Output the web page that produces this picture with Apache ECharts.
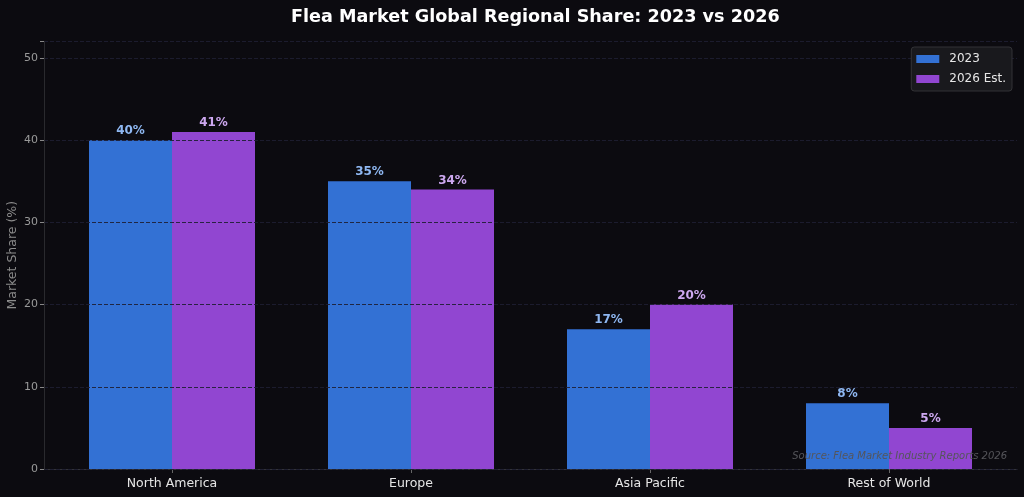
<!DOCTYPE html>
<html>
<head>
    <meta charset="utf-8">
    <style>
        html, body { margin: 0; padding: 0; background: #0c0b10; }
        #chart-container { width: 1024px; height: 497px; }
    </style>
</head>
<body>
    <div id="chart-container"></div>

    <script type="text/javascript" src="https://cdn.jsdelivr.net/npm/echarts@6/dist/echarts.min.js"></script>
    <script type="text/javascript">
        // data
        var regions = ['North America', 'Europe', 'Asia Pacific', 'Rest of World'];
        var share2023 = [40, 35, 17, 8];
        var share2026 = [41, 34, 20, 5];
        var yTicks = [0, 10, 20, 30, 40, 50];

        var chartDom = document.getElementById('chart-container');
        var myChart = echarts.init(chartDom);

        var font = 'DejaVu Sans';

        var option = {
            backgroundColor: '#0c0b10',
            animation: false,
            textStyle: { fontFamily: font },
            title: {
                text: 'Flea Market Global Regional Share: 2023 vs 2026',
                left: 286,
                top: 3,
                textStyle: { color: '#ffffff', fontSize: 17.6, fontWeight: 'bold', fontFamily: font }
            },
            legend: {
                orient: 'vertical',
                right: 12,
                top: 47,
                z: 10,
                icon: 'rect',
                itemWidth: 23,
                itemHeight: 8,
                itemGap: 8,
                padding: [6, 6, 6, 5],
                backgroundColor: '#19191d',
                borderColor: '#333336',
                borderWidth: 1,
                borderRadius: 3,
                textStyle: { color: '#e6e6e6', fontSize: 12, fontFamily: font, padding: [0, 0, 0, 5] },
                data: ['2023', '2026 Est.']
            },
            // grid 0 holds the bars, grid 1 is the wider frame with axes and gridlines
            grid: [
                { left: 52.5, right: 15.5, top: 41.5, bottom: 28, containLabel: false, outerBoundsMode: 'none' },
                { left: 44, right: 7, top: 41.5, bottom: 28, containLabel: false, outerBoundsMode: 'none' }
            ],
            xAxis: [
                {
                    type: 'category',
                    gridIndex: 0,
                    data: regions,
                    axisLine: { show: false },
                    axisTick: { show: true, length: 4, alignWithLabel: true, lineStyle: { color: '#666' } },
                    axisLabel: { color: '#e6e6e6', fontSize: 12.5, margin: 8, fontFamily: font }
                },
                {
                    type: 'category',
                    gridIndex: 1,
                    data: regions,
                    axisLine: { show: true, lineStyle: { color: '#333338', width: 1 } },
                    axisTick: { show: false },
                    axisLabel: { show: false }
                }
            ],
            yAxis: [
                {
                    type: 'value',
                    gridIndex: 0,
                    min: 0,
                    max: 52,
                    show: false
                },
                {
                    type: 'value',
                    gridIndex: 1,
                    min: 0,
                    max: 52,
                    interval: 10,
                    z: 5,
                    name: 'Market Share (%)',
                    nameLocation: 'middle',
                    nameGap: 25,
                    nameMoveOverlap: false,
                    nameTextStyle: { color: '#8c8c8c', fontSize: 12.5, fontFamily: font },
                    axisLine: { show: true, lineStyle: { color: '#2a2a2e' } },
                    axisTick: { show: true, length: 4, lineStyle: { color: '#888' } },
                    axisLabel: {
                        color: '#9a9a9a',
                        fontSize: 11,
                        margin: 6,
                        fontFamily: font,
                        formatter: function (v) { return yTicks.indexOf(v) >= 0 ? v : ''; }
                    },
                    splitLine: {
                        show: true,
                        lineStyle: { color: 'rgba(30,30,50,0.9)', type: [4, 2], width: 1 }
                    }
                }
            ],
            series: [
                {
                    name: '2023',
                    type: 'bar',
                    xAxisIndex: 0,
                    yAxisIndex: 0,
                    data: share2023,
                    barWidth: 83,
                    barGap: '0%',
                    itemStyle: { color: '#3371d4' },
                    label: {
                        show: true,
                        position: 'top',
                        distance: 3,
                        formatter: '{c}%',
                        color: '#8fb8f2',
                        fontSize: 12,
                        fontWeight: 'bold',
                        fontFamily: font
                    }
                },
                {
                    name: '2026 Est.',
                    type: 'bar',
                    xAxisIndex: 0,
                    yAxisIndex: 0,
                    data: share2026,
                    barWidth: 83,
                    barGap: '0%',
                    itemStyle: { color: '#9146d1' },
                    label: {
                        show: true,
                        position: 'top',
                        distance: 3,
                        formatter: '{c}%',
                        color: '#cda8f0',
                        fontSize: 12,
                        fontWeight: 'bold',
                        fontFamily: font
                    }
                }
            ],
            graphic: [
                {
                    type: 'text',
                    right: 17,
                    top: 451,
                    z: 10,
                    style: {
                        text: 'Source: Flea Market Industry Reports 2026',
                        fill: '#55555a',
                        fontSize: 10,
                        fontStyle: 'italic',
                        fontFamily: font
                    }
                }
            ]
        };
        myChart.setOption(option);
    </script>
</body>
</html>
